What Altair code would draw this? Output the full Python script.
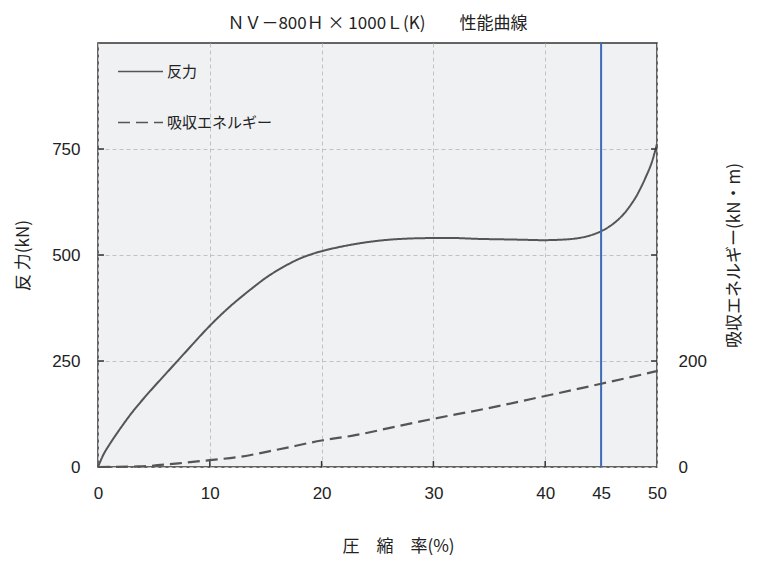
import altair as alt
import pandas as pd

# ---- data ----
x_force = [0, 0.5, 1, 2, 3, 4, 5, 6, 7, 8, 9, 10, 11, 12, 13, 14, 15, 16, 17, 18, 19, 20,
           22, 24, 26, 28, 30, 32, 34, 36, 38, 40, 42, 43, 44, 45, 46, 47, 48, 48.5, 49, 49.5, 50]
force_kn = [0, 30, 52, 91, 127, 159, 189, 218, 247, 276, 305, 333, 359, 383, 405, 426, 446, 463, 478, 491, 501, 509,
            521, 530, 536, 539, 540, 540, 538, 537, 536, 535, 537, 540, 546, 556, 572, 596, 632, 656, 684, 716, 762]

x_energy = [0, 3.6, 7.2, 10, 12.6, 16.1, 20, 23, 26.6, 30, 34.2, 40, 45, 50]
energy_knm = [0, 1, 7, 13, 19, 33, 50, 60, 76, 91, 108, 134, 157, 181]

series_names = ["反力", "吸収エネルギー"]
x_tick_values = [0, 10, 20, 30, 40, 45, 50]
x_inner_ticks = [10, 20, 30, 40]
y_left_values = [0, 250, 500, 750]
y_inner_ticks = [250, 500, 750]
y_right_values = [0, 200]
marker_x = [45]

W, H = 559, 424
TXT = "#222222"
LINE = "#555555"

df_force = pd.DataFrame({"x": x_force, "y": force_kn, "series": series_names[0]})
df_energy = pd.DataFrame({"x": x_energy, "e": energy_knm, "series": series_names[1]})
df_xt = pd.DataFrame({"x": x_inner_ticks})
df_yt = pd.DataFrame({"y": y_inner_ticks})
df_mark = pd.DataFrame({"x": marker_x})

xscale = alt.Scale(domain=[0, 50], nice=False, zero=False)
xaxis = alt.Axis(
    values=x_tick_values, title="圧　縮　率(%)", grid=True, gridDash=[4, 3], gridColor="#c2c2c2",
    ticks=False, domain=False, labelFlush=False, labelPadding=18, labelFontSize=17,
    labelColor=TXT, labelFont="Liberation Sans", titleFont="Noto Sans CJK JP",
    titleFontSize=17, titleFontWeight="normal", titleColor=TXT, titleX=300, titleY=79,
    titleAlign="center", titleBaseline="middle",
)
xenc = alt.X("x:Q", scale=xscale, axis=xaxis)

yscale = alt.Scale(domain=[0, 1000], nice=False, zero=True)
yaxis = alt.Axis(
    values=y_left_values, title="反 力(kN)", grid=True, gridDash=[4, 3], gridColor="#c2c2c2",
    ticks=False, domain=False, labelPadding=18, labelFontSize=17, labelColor=TXT,
    labelFont="Liberation Sans", titleFont="Noto Sans CJK JP", titleFontSize=17,
    titleFontWeight="normal", titleColor=TXT, titleAngle=270, titleX=-75, titleY=H / 2,
    titleAlign="center", titleBaseline="middle",
)
yenc = alt.Y("y:Q", scale=yscale, axis=yaxis)

legend = alt.Legend(
    title=None, orient="none", legendX=19, legendY=5, symbolType="stroke", symbolSize=2025,
    symbolStrokeWidth=1.5, symbolStrokeColor=LINE, labelFontSize=15, labelColor=TXT,
    labelFont="Noto Sans CJK JP", labelOffset=3, rowPadding=19, padding=0,
)
sd = alt.StrokeDash(
    "series:N",
    scale=alt.Scale(domain=series_names, range=[[1, 0], [12, 6]]),
    legend=legend,
)

force_line = alt.Chart(df_force).mark_line(color=LINE, strokeWidth=2, interpolate="catmull-rom").encode(
    x=xenc, y=yenc, strokeDash=sd
)

x_ticks = alt.Chart(df_xt).mark_rule(color="#333333", strokeWidth=1.5).encode(
    x=xenc, y=alt.value(H), y2=alt.value(H - 6)
)
left_ticks = alt.Chart(df_yt).mark_rule(color="#333333", strokeWidth=1.5).encode(
    y=yenc, x=alt.value(0), x2=alt.value(6)
)
right_ticks = alt.Chart(df_yt).mark_rule(color="#333333", strokeWidth=1.5).encode(
    y=yenc, x=alt.value(W), x2=alt.value(W - 6)
)
marker = alt.Chart(df_mark).mark_rule(color="#3b6cb6", strokeWidth=2).encode(x=xenc)

layer_a = alt.layer(force_line, x_ticks, left_ticks, right_ticks, marker)

energy_line = alt.Chart(df_energy).mark_line(color=LINE, strokeWidth=2.2, interpolate="monotone").encode(
    x=xenc,
    y=alt.Y(
        "e:Q",
        scale=alt.Scale(domain=[0, 800], nice=False, zero=True),
        axis=alt.Axis(
            orient="right", values=y_right_values, title="吸収エネルギー(kN・m)", grid=False,
            ticks=False, domain=False, labelPadding=21, labelFontSize=17, labelColor=TXT,
            labelFont="Liberation Sans", titleFont="Noto Sans CJK JP", titleFontSize=17,
            titleFontWeight="normal", titleColor=TXT, titleAngle=270, titleX=77, titleY=H / 2,
            titleAlign="center", titleBaseline="middle",
        ),
    ),
    strokeDash=sd,
)

chart = (
    alt.layer(layer_a, energy_line)
    .resolve_scale(y="independent")
    .properties(
        width=W,
        height=H,
        padding={"left": 90, "top": 35, "right": 96, "bottom": 92},
        autosize=alt.AutoSizeParams(type="none"),
        title=alt.Title(
            "ＮＶ－800Ｈ × 1000Ｌ(K)　　性能曲線", fontSize=17, font="Noto Sans CJK JP",
            fontWeight="normal", color=TXT, offset=9, anchor="middle",
        ),
    )
    .configure_view(fill="#f0f1f3", stroke="#333333", strokeWidth=1.5)
)

chart.save("out.html", embed_options={"renderer": "svg", "actions": False})
